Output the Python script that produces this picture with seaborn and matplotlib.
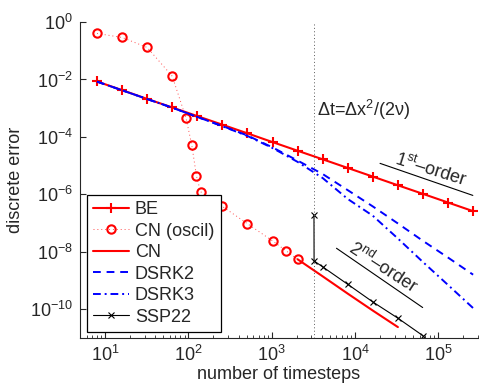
import matplotlib
matplotlib.use("Agg")
import matplotlib.pyplot as plt
import seaborn as sns
from matplotlib.ticker import FixedLocator, FixedFormatter, LogLocator, NullLocator, NullFormatter

# ---- data ----
n_be = [8, 16, 32, 64, 128, 256, 512, 1024, 2048, 4096, 8192, 16384, 32768, 65536, 131072, 262144]
err_be = [8.5e-3, 4.25e-3, 2.1e-3, 1.06e-3, 5.3e-4, 2.66e-4, 1.33e-4, 6.6e-5, 3.3e-5, 1.66e-5,
          8.3e-6, 4.15e-6, 2.07e-6, 1.04e-6, 5.2e-7, 2.6e-7]

n_cn_osc = [8, 16, 32, 64, 94, 110, 125, 140, 256, 512, 1024, 1500, 2048]
err_cn_osc = [0.40, 0.29, 0.13, 0.013, 4.4e-4, 5.1e-5, 4.4e-6, 1.24e-6, 3.8e-7, 9.5e-8, 2.4e-8, 1.07e-8, 5.5e-9]

n_cn = [2048, 4096, 8192, 16384, 32768]
err_cn = [5.5e-9, 1.4e-9, 3.5e-10, 9.0e-11, 2.4e-11]

n_dsrk = [8, 16, 32, 64, 128, 256, 512, 1024, 2048, 4096, 8192, 16384, 32768, 65536, 131072, 262144]
err_dsrk2 = [8.4e-3, 4.2e-3, 2.08e-3, 1.04e-3, 4.95e-4, 2.4e-4, 1.12e-4, 4.3e-5, 1.5e-5, 5.1e-6,
             1.4e-6, 3.8e-7, 9.7e-8, 2.4e-8, 6.3e-9, 1.6e-9]
err_dsrk3 = [8.4e-3, 4.2e-3, 2.08e-3, 1.04e-3, 4.95e-4, 2.35e-4, 1.08e-4, 4.1e-5, 1.35e-5, 3.7e-6,
             6.9e-7, 1.8e-7, 2.9e-8, 4.4e-9, 7.0e-10, 1.1e-10]

n_ssp = [3220, 3230, 4096, 8192, 16384, 32768, 65536]
err_ssp = [1.9e-7, 4.8e-9, 3.0e-9, 7.4e-10, 1.8e-10, 4.9e-11, 1.2e-11]

n_limit = 3221  # dt = dx^2/(2 nu)

order1_x = [2.0e4, 2.6e5]
order1_y = [1.2e-5, 9.2e-7]
order2_x = [6.0e3, 6.5e4]
order2_y = [1.33e-8, 1.15e-10]

xticks = [1e1, 1e2, 1e3, 1e4, 1e5]
xticklabels = [r"$10^{1}$", r"$10^{2}$", r"$10^{3}$", r"$10^{4}$", r"$10^{5}$"]
yticks = [1e0, 1e-2, 1e-4, 1e-6, 1e-8, 1e-10]
yticklabels = [r"$10^{0}$", r"$10^{-2}$", r"$10^{-4}$", r"$10^{-6}$", r"$10^{-8}$", r"$10^{-10}$"]

# ---- style ----
sns.set_style("ticks")
plt.rcParams.update({
    "font.family": ["Liberation Sans", "DejaVu Sans"],
    "mathtext.fontset": "custom",
    "mathtext.rm": "Liberation Sans",
    "mathtext.it": "Liberation Sans:italic",
    "mathtext.bf": "Liberation Sans:bold",
    "mathtext.sf": "Liberation Sans",
    "xtick.direction": "in",
    "ytick.direction": "in",
    "axes.linewidth": 0.8,
})
FS = 13

fig = plt.figure(figsize=(4.79, 3.86), dpi=100)
ax = fig.add_axes([80 / 479, 1 - 338 / 386, 398 / 479, 316 / 386])
ax.set_xscale("log")
ax.set_yscale("log")

sns.lineplot(x=n_be, y=err_be, ax=ax, color="red", lw=1.5, marker="+", markersize=7,
             markeredgecolor="red", markeredgewidth=1.5, label="BE")
sns.lineplot(x=n_cn_osc, y=err_cn_osc, ax=ax, color="#ff5050", lw=0.7, linestyle=(0, (1, 3)),
             marker="o", markersize=6, markerfacecolor="none", markeredgecolor="red",
             markeredgewidth=1.5, label="CN (oscil)")
sns.lineplot(x=n_cn, y=err_cn, ax=ax, color="red", lw=1.5, label="CN")
sns.lineplot(x=n_dsrk, y=err_dsrk2, ax=ax, color="blue", lw=1.4, linestyle=(0, (4, 3)), label="DSRK2")
sns.lineplot(x=n_dsrk, y=err_dsrk3, ax=ax, color="blue", lw=1.4, linestyle=(0, (4, 2, 1, 2)), label="DSRK3")
sns.lineplot(x=n_ssp, y=err_ssp, ax=ax, color="black", lw=0.8, marker="x", markersize=4,
             markeredgecolor="black", markeredgewidth=0.8, label="SSP22", sort=False)

# reference lines and annotations
ax.axvline(n_limit, color="0.35", lw=0.7, linestyle=(0, (1, 2.5)))
ax.plot(order1_x, order1_y, color="black", lw=0.8)
ax.plot(order2_x, order2_y, color="black", lw=0.8)
ax.text(3510, 8.6e-4, "Δt=Δx$^{2}$/(2ν)", fontsize=FS, ha="left", va="center")
ax.text(8.1e4, 7.0e-6, r"$1^{\mathrm{st}}$–order", fontsize=FS, ha="center", va="center",
        rotation=-17.5, rotation_mode="anchor")
ax.text(2.2e4, 2.9e-9, r"$2^{\mathrm{nd}}$–order", fontsize=FS, ha="center", va="center",
        rotation=-33, rotation_mode="anchor")

ax.set_xlim(5, 3e5)
ax.set_ylim(1e-11, 1)
ax.xaxis.set_major_locator(FixedLocator(xticks))
ax.xaxis.set_major_formatter(FixedFormatter(xticklabels))
ax.xaxis.set_minor_locator(LogLocator(base=10, subs=range(2, 10), numticks=20))
ax.xaxis.set_minor_formatter(NullFormatter())
ax.yaxis.set_major_locator(FixedLocator(yticks))
ax.yaxis.set_major_formatter(FixedFormatter(yticklabels))
ax.yaxis.set_minor_locator(NullLocator())
ax.tick_params(axis="both", which="major", length=4, width=0.8, labelsize=FS, pad=5)
ax.tick_params(axis="both", which="minor", length=2, width=0.6)
sns.despine(ax=ax)

ax.set_xlabel("number of timesteps", fontsize=FS, labelpad=1)
ax.set_ylabel("discrete error", fontsize=FS, labelpad=4)

leg = ax.legend(loc="lower left", bbox_to_anchor=(0.0176, 0.019), borderaxespad=0,
                frameon=True, fancybox=False, edgecolor="black", framealpha=1,
                handlelength=2.0, handletextpad=0.3, labelspacing=0.25, borderpad=0.35,
                fontsize=FS)
leg.get_frame().set_linewidth(0.9)

fig.savefig("out.png", dpi=100)
